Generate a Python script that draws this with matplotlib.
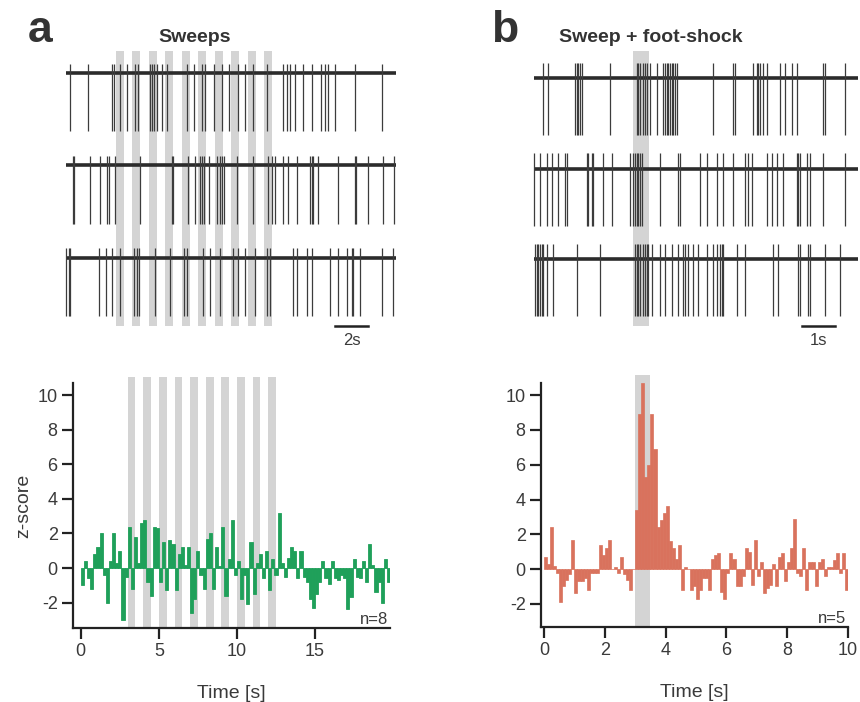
import numpy as np
import matplotlib
matplotlib.use("Agg")
import matplotlib.pyplot as plt

plt.rcParams['font.family'] = ['Liberation Sans', 'DejaVu Sans']
plt.rcParams['axes.unicode_minus'] = False

# --- spike times (s) of the example sweeps ---
sweep_a = [
    [0.2, 1.29, 2.77, 2.87, 3.23, 3.68, 4.18, 4.32, 5.09, 5.19, 5.33, 5.49, 5.8, 6.1,
     7.31, 7.72, 8.22, 8.42, 8.93, 9.43, 9.84, 10.44, 10.85, 11.35, 12.16, 13.17,
     13.37, 13.54, 13.88, 14.38, 14.89, 15.43, 15.7, 15.9, 16.3, 17.5, 19.13],
    [0.4, 0.48, 1.41, 2.06, 2.46, 2.57, 2.97, 4.48, 6.4, 6.5, 7.41, 7.82, 8.12, 8.22,
     8.36, 8.63, 9.13, 9.33, 9.43, 9.54, 10.34, 11.35, 12.26, 12.46, 12.67, 13.17,
     13.47, 13.98, 14.79, 14.89, 14.99, 15.29, 16.5, 17.5, 17.6, 18.3, 19.2, 19.9],
    [0.0, 0.14, 0.24, 1.96, 2.42, 2.77, 3.27, 4.08, 4.28, 4.38, 5.39, 6.3, 7.11, 7.31,
     8.32, 8.73, 9.33, 10.14, 10.44, 10.85, 11.45, 12.16, 12.36, 13.78, 13.98, 14.59,
     14.89, 16.0, 16.5, 17.0, 17.31, 17.41, 17.82, 19.13, 19.84],
]
sweep_b = [
    [0.28, 0.43, 1.24, 1.29, 1.34, 1.39, 1.44, 2.3, 3.11, 3.16, 3.21, 3.31, 3.36, 3.41,
     3.52, 3.72, 3.92, 3.97, 4.02, 4.07, 4.12, 4.17, 4.22, 4.27, 4.32, 5.43, 6.04,
     6.09, 6.65, 6.75, 6.8, 6.85, 6.95, 7.05, 7.45, 7.61, 7.81, 7.96, 8.77, 8.82, 9.42],
    [0.0, 0.18, 0.38, 0.54, 0.74, 0.94, 0.99, 1.6, 1.65, 1.75, 1.8, 2.1, 2.35, 2.91,
     3.01, 3.06, 3.11, 3.16, 3.21, 3.26, 3.82, 4.37, 4.42, 5.03, 5.23, 5.54, 5.74,
     6.04, 6.39, 6.49, 6.6, 7.05, 7.2, 7.35, 7.56, 7.96, 8.01, 8.06, 8.26, 8.36,
     8.77, 9.42],
    [0.03, 0.08, 0.13, 0.18, 0.23, 0.28, 0.38, 0.59, 1.29, 2.0, 3.06, 3.11, 3.16, 3.21,
     3.31, 3.36, 3.41, 3.46, 3.57, 3.82, 3.97, 4.17, 4.37, 4.53, 4.58, 4.68, 4.83,
     4.98, 5.23, 5.43, 5.54, 5.64, 5.69, 5.74, 6.14, 6.39, 7.25, 7.4, 8.01, 8.06,
     8.31, 8.36, 8.82, 9.27],
]

# stimulus windows (s)
sweep_onsets = [3, 4, 5, 6, 7, 8, 9, 10, 11, 12]
sweep_dur = 0.5
shock_onsets = [3.0]
shock_dur = 0.5

# --- z-score PSTHs ---
bin_a = 0.2
zscore_a = [-1.0, 0.4, -0.6, -1.2, 0.8, 1.2, 2.0, -0.4, -2.0, 0.4,
            2.0, 0.3, 1.0, -3.0, -0.5, 2.4, -1.2, 1.8, 0.3, 2.6,
            2.8, -0.8, -1.6, 2.4, 2.3, -0.8, 1.5, -1.3, 1.6, 1.4,
            -1.3, 0.8, 1.2, 0.2, 1.2, -2.6, -1.8, 1.0, -0.4, -1.2,
            1.7, 2.0, -1.2, 1.2, 0.1, 2.4, -1.6, 0.5, 2.8, -0.4,
            0.4, -1.8, -0.4, -2.1, 1.5, -1.5, 0.3, 0.8, -0.6, 1.0,
            -1.3, 0.5, -0.4, 3.2, 0.3, -0.5, 0.6, 1.2, 1.0, -0.6,
            1.0, -0.5, -0.8, -1.8, -2.3, -1.5, -0.8, 0.4, -0.6, -0.9,
            0.4, -0.6, -0.7, -0.4, -0.6, -2.4, -1.7, 0.5, -0.5, -0.6,
            0.4, -0.8, 1.4, 0.2, -1.4, -0.8, -2.0, 0.5, -0.8]
bin_b = 0.1
zscore_b = [0.7, 0.3, 2.4, 0.2, -0.2, -1.9, -1.0, -0.6, -0.3, 1.7,
            -1.4, -0.7, -0.7, -0.5, -1.2, -0.2, -0.2, -0.2, 1.4, 0.8,
            1.2, 1.7, 0.0, 0.1, -0.2, 0.7, -0.3, -0.6, -1.2, 0.0,
            3.4, 8.9, 10.7, 5.3, 6.0, 8.9, 6.9, 2.4, 2.8, 3.2,
            3.6, 1.6, 1.2, 0.6, 1.4, -1.2, 0.1, 0.0, -1.2, -1.0,
            -1.7, -1.2, -0.5, -0.5, -1.2, 0.6, 0.8, 0.9, -1.3, -1.7,
            -0.2, 0.9, 0.6, -1.0, -1.0, -0.4, 1.2, 1.0, -0.9, 1.7,
            -0.4, 0.4, -1.4, -1.1, -0.9, 0.3, -1.0, 0.7, 0.9, -0.7,
            0.4, 1.2, 2.9, -0.2, -0.4, 1.2, -1.2, 0.4, 0.4, -1.0,
            0.4, 0.6, -0.4, 0.1, 0.1, 0.5, 0.9, -0.2, 0.9, -1.2]

W, H = 860, 702
GRAY = '#d4d4d4'
TRACE = '#2b2b2b'
TXT = '#3a3a3a'
GREEN = '#1fa05a'
RED = '#d9725d'

fig = plt.figure(figsize=(W / 100, H / 100), dpi=100)


def px_axes(x0, y0, x1, y1):
    return fig.add_axes([x0 / W, 1 - y1 / H, (x1 - x0) / W, (y1 - y0) / H])


def draw_traces(ax, sweeps, t_end, onsets, dur, depth, up, bar_len, bar_x, label):
    for k, spikes in enumerate(sweeps):
        base = -k
        ax.plot([0, t_end], [base, base], color=TRACE, lw=2.6, solid_capstyle='butt',
                clip_on=False)
        ax.vlines(spikes, base - depth, base + up, color='#3c3c3c', lw=0.9, clip_on=False)
    for t0 in onsets:
        ax.axvspan(t0, t0 + dur, color=GRAY, lw=0, zorder=0)
    ax.plot([bar_x, bar_x + bar_len], [-2.74, -2.74], color='#222222', lw=1.8,
            clip_on=False)
    ax.text(bar_x + bar_len / 2, -2.82, label, ha='center', va='top', fontsize=12, color=TXT)
    ax.axis('off')


# top-left sweeps
ax1 = px_axes(63, 51, 396, 326)
ax1.set_xlim(-0.2, 20.0)
ax1.set_ylim(-2.74, 0.24)
draw_traces(ax1, sweep_a, 20.0, sweep_onsets, sweep_dur, 0.63, 0.1, 2, 16.3, '2s')

# top-right sweeps
ax2 = px_axes(533, 51, 858, 326)
ax2.set_xlim(-0.03, 9.82)
ax2.set_ylim(-2.74, 0.3)
draw_traces(ax2, sweep_b, 9.82, shock_onsets, shock_dur, 0.63, 0.17, 1, 8.12, '1s')


def style_hist(ax, xticks):
    for s in ('top', 'right'):
        ax.spines[s].set_visible(False)
    for s in ('left', 'bottom'):
        ax.spines[s].set_linewidth(1.6)
        ax.spines[s].set_color('#222222')
    ax.set_yticks([-2, 0, 2, 4, 6, 8, 10])
    ax.set_xticks(xticks)
    ax.tick_params(direction='out', length=8, width=1.6, labelsize=13,
                   labelcolor=TXT, color='#222222', pad=3)
    ax.set_xlabel('Time [s]', fontsize=14, color=TXT, labelpad=18)


# bottom-left PSTH
ax3 = px_axes(73, 383, 390, 628)
t_a = np.arange(len(zscore_a)) * bin_a
for t0 in sweep_onsets:
    ax3.bar(t0, 14.5, bottom=-3.47, width=sweep_dur, align='edge', color=GRAY, lw=0,
            zorder=0, clip_on=False)
ax3.bar(t_a, zscore_a, width=bin_a, align='edge', color=GREEN, edgecolor=GREEN,
        lw=0.6, zorder=2)
ax3.set_xlim(-0.5, 19.8)
ax3.set_ylim(-3.47, 10.7)
style_hist(ax3, [0, 5, 10, 15])
ax3.set_ylabel('z-score', fontsize=14, color=TXT, labelpad=4)
ax3.text(0.995, 0.005, 'n=8', transform=ax3.transAxes, ha='right', va='bottom',
         fontsize=12, color=TXT)

# bottom-right PSTH
ax4 = px_axes(541, 383, 848, 627)
t_b = np.arange(len(zscore_b)) * bin_b
for t0 in shock_onsets:
    ax4.bar(t0, 14.5, bottom=-3.33, width=shock_dur, align='edge', color=GRAY, lw=0,
            zorder=0, clip_on=False)
ax4.bar(t_b, zscore_b, width=bin_b, align='edge', color=RED, edgecolor=RED,
        lw=0.5, zorder=2)
ax4.set_xlim(-0.1, 10.0)
ax4.set_ylim(-3.33, 10.7)
style_hist(ax4, [0, 2, 4, 6, 8, 10])
ax4.text(0.995, 0.005, 'n=5', transform=ax4.transAxes, ha='right', va='bottom',
         fontsize=12, color=TXT)

# panel letters and titles
fig.text(40 / W, 1 - 42 / H, 'a', fontsize=32, fontweight='bold', color='#333333',
         ha='center', va='baseline')
fig.text(505 / W, 1 - 42 / H, 'b', fontsize=32, fontweight='bold', color='#333333',
         ha='center', va='baseline')
fig.text(195 / W, 1 - 37 / H, 'Sweeps', fontsize=14, fontweight='bold', color='#333333',
         ha='center', va='center')
fig.text(651 / W, 1 - 37 / H, 'Sweep + foot-shock', fontsize=14, fontweight='bold',
         color='#333333', ha='center', va='center')

fig.savefig('out.png', dpi=100)
